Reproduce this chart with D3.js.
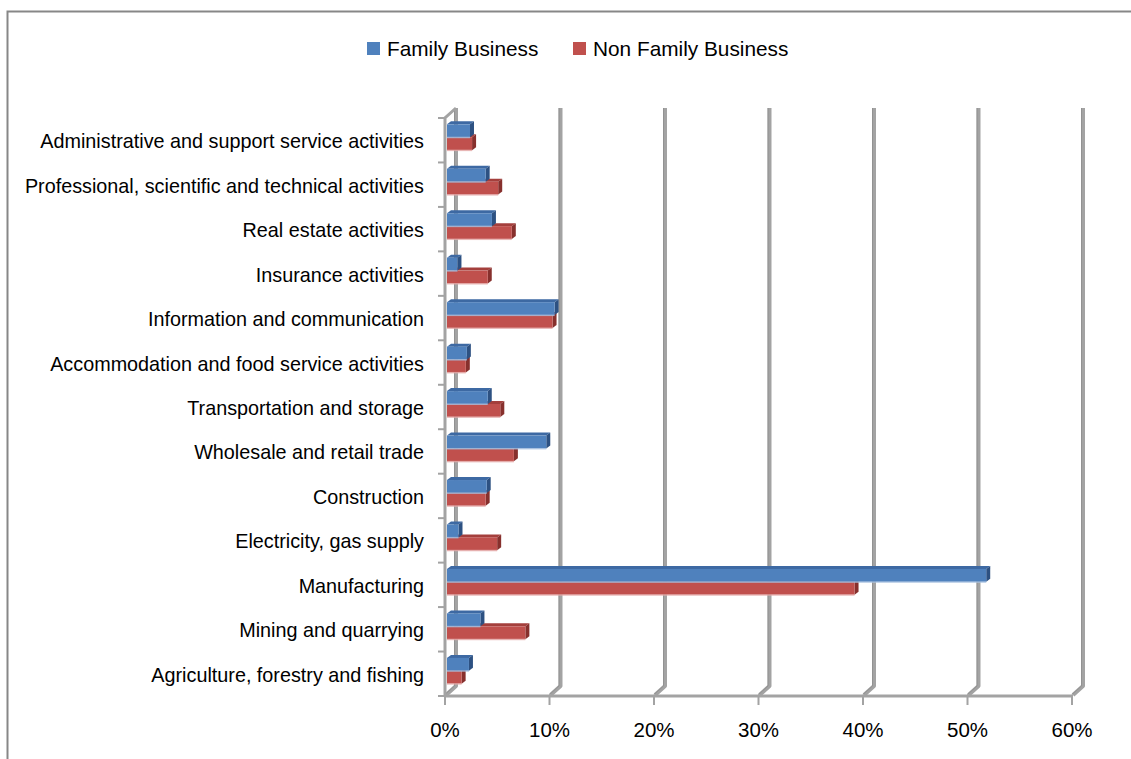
<!DOCTYPE html>
<html>
<head>
<meta charset="utf-8">
<script src="https://cdn.jsdelivr.net/npm/d3@7/dist/d3.min.js"></script>
<style>
  html, body { margin: 0; padding: 0; background: #fff; }
  svg { display: block; font-family: "Liberation Sans", Arial, sans-serif; }
</style>
</head>
<body>
<svg id="chart" width="1131" height="759"></svg>
<script>
// Sector shares of family vs. non-family businesses
const categories = [
  "Administrative and support service activities",
  "Professional, scientific and technical activities",
  "Real estate activities",
  "Insurance activities",
  "Information and communication",
  "Accommodation and food service activities",
  "Transportation and storage",
  "Wholesale and retail trade",
  "Construction",
  "Electricity, gas supply",
  "Manufacturing",
  "Mining and quarrying",
  "Agriculture, forestry and fishing"
];
const familyValues    = [0.022, 0.037, 0.043, 0.010, 0.103, 0.019, 0.039, 0.095, 0.038, 0.011, 0.516, 0.032, 0.021];
const nonFamilyValues = [0.024, 0.049, 0.062, 0.039, 0.101, 0.018, 0.051, 0.064, 0.037, 0.048, 0.390, 0.075, 0.014];
const seriesNames = ["Family Business", "Non Family Business"];
const tickValues = [0, 0.1, 0.2, 0.3, 0.4, 0.5, 0.6];

const svg = d3.select("#chart");

// Chart frame
svg.append("rect")
  .attr("x", 7.5).attr("y", 11.5)
  .attr("width", 1140).attr("height", 770)
  .attr("fill", "#fff").attr("stroke", "#878787").attr("stroke-width", 2);

// Plot geometry (front plane) and 3D depth offset of the back walls
const plotTop = 118, plotBottom = 696;
const depth = { dx: 11, dy: -10 };

const x = d3.scaleLinear().domain([0, 0.6]).range([445, 1072]);
const y = d3.scaleBand().domain(categories).range([plotTop, plotBottom]).padding(0);

const gridG = svg.append("g");
const gridColor = "#a3a3a3", gridDark = "#8a8a8a";

function thickLine(g, pts, w) {
  const line = d3.line();
  g.append("path").attr("d", line(pts)).attr("fill", "none")
    .attr("stroke", gridColor).attr("stroke-width", w)
    .attr("stroke-linejoin", "round");
  g.append("path").attr("d", line(pts.map(p => [p[0] - w / 2 + 0.5, p[1]]))).attr("fill", "none")
    .attr("stroke", gridDark).attr("stroke-width", 1).attr("opacity", 0.7);
}

// Back wall gridlines, each bending forward along the floor
tickValues.forEach(v => {
  const bx = x(v) + depth.dx;
  thickLine(gridG, [[bx, plotTop + depth.dy], [bx, plotBottom + depth.dy], [x(v) + 1, plotBottom - 1]], 4);
});

// Floor front edge
gridG.append("line")
  .attr("x1", x(0)).attr("x2", x(0.6) + 1)
  .attr("y1", plotBottom).attr("y2", plotBottom)
  .attr("stroke", gridColor).attr("stroke-width", 3);

// Left wall front edge with top bevel
gridG.append("path")
  .attr("d", d3.line()([[x(0) + depth.dx, plotTop + depth.dy], [x(0), plotTop], [x(0), plotBottom]]))
  .attr("fill", "none").attr("stroke", gridColor).attr("stroke-width", 3);

// Value-axis ticks
tickValues.forEach(v => {
  gridG.append("line")
    .attr("x1", x(v)).attr("x2", x(v))
    .attr("y1", plotBottom).attr("y2", plotBottom + 9)
    .attr("stroke", gridColor).attr("stroke-width", 2);
});

// Category-axis ticks
const boundaries = categories.map(c => y(c)).concat([plotBottom]);
boundaries.forEach(b => {
  gridG.append("line")
    .attr("x1", x(0) - 7).attr("x2", x(0))
    .attr("y1", b).attr("y2", b)
    .attr("stroke", gridColor).attr("stroke-width", 2);
});

// Value-axis labels
svg.append("g").selectAll("text").data(tickValues).join("text")
  .attr("x", d => x(d)).attr("y", 737)
  .attr("text-anchor", "middle")
  .attr("font-size", 20.5).attr("fill", "#000")
  .text(d => d3.format(".0%")(d));

// Category labels
svg.append("g").selectAll("text").data(categories).join("text")
  .attr("x", 424).attr("y", d => y(d) + y.bandwidth() / 2 + 1)
  .attr("dominant-baseline", "central")
  .attr("text-anchor", "end")
  .attr("font-size", 19.8).attr("fill", "#000")
  .text(d => d);

// 3D bars
const barH = y.bandwidth() * 0.29;
const bar = { dx: 4, dy: -3, shiftX: 2, shiftY: -3 };
const palettes = [
  { front: "#4f81bd", top: "#3d69a3", side: "#2d5182", edge: "#a7c0e0" },
  { front: "#c0504d", top: "#a43f3c", side: "#87302d", edge: "#e3a9a7" }
];

function drawBar(g, v, yTop, pal) {
  const x0 = x(0) + bar.shiftX, x1 = x(v) + bar.shiftX;
  const y0 = yTop, y1 = yTop + barH;
  // top face
  g.append("path").attr("fill", pal.top)
    .attr("d", d3.line()([[x0, y0], [x1, y0], [x1 + bar.dx, y0 + bar.dy], [x0 + bar.dx, y0 + bar.dy]]) + "Z");
  // side face
  g.append("path").attr("fill", pal.side)
    .attr("d", d3.line()([[x1, y0], [x1 + bar.dx, y0 + bar.dy], [x1 + bar.dx, y1 + bar.dy], [x1, y1]]) + "Z");
  // front face
  g.append("rect").attr("x", x0).attr("y", y0).attr("width", x1 - x0).attr("height", y1 - y0)
    .attr("fill", pal.front);
  // soft lower edge
  g.append("rect").attr("x", x0).attr("y", y1 - 0.5).attr("width", x1 - x0).attr("height", 1.5)
    .attr("fill", pal.edge).attr("opacity", 0.8);
}

const barsG = svg.append("g");
categories.forEach((c, i) => {
  const mid = y(c) + y.bandwidth() / 2 + bar.shiftY;
  // lower bar first so the upper bar covers the shared top face
  drawBar(barsG, nonFamilyValues[i], mid, palettes[1]);
  drawBar(barsG, familyValues[i], mid - barH, palettes[0]);
});

// Legend
const legend = svg.append("g");
const legendItems = [
  { name: seriesNames[0], color: palettes[0].front, sx: 367, tx: 387 },
  { name: seriesNames[1], color: palettes[1].front, sx: 573, tx: 593 }
];
legendItems.forEach(it => {
  legend.append("rect").attr("x", it.sx).attr("y", 42).attr("width", 13).attr("height", 13).attr("fill", it.color);
  legend.append("text").attr("x", it.tx).attr("y", 56)
    .attr("font-size", 20.8).attr("fill", "#000").text(it.name);
});
</script>
</body>
</html>
